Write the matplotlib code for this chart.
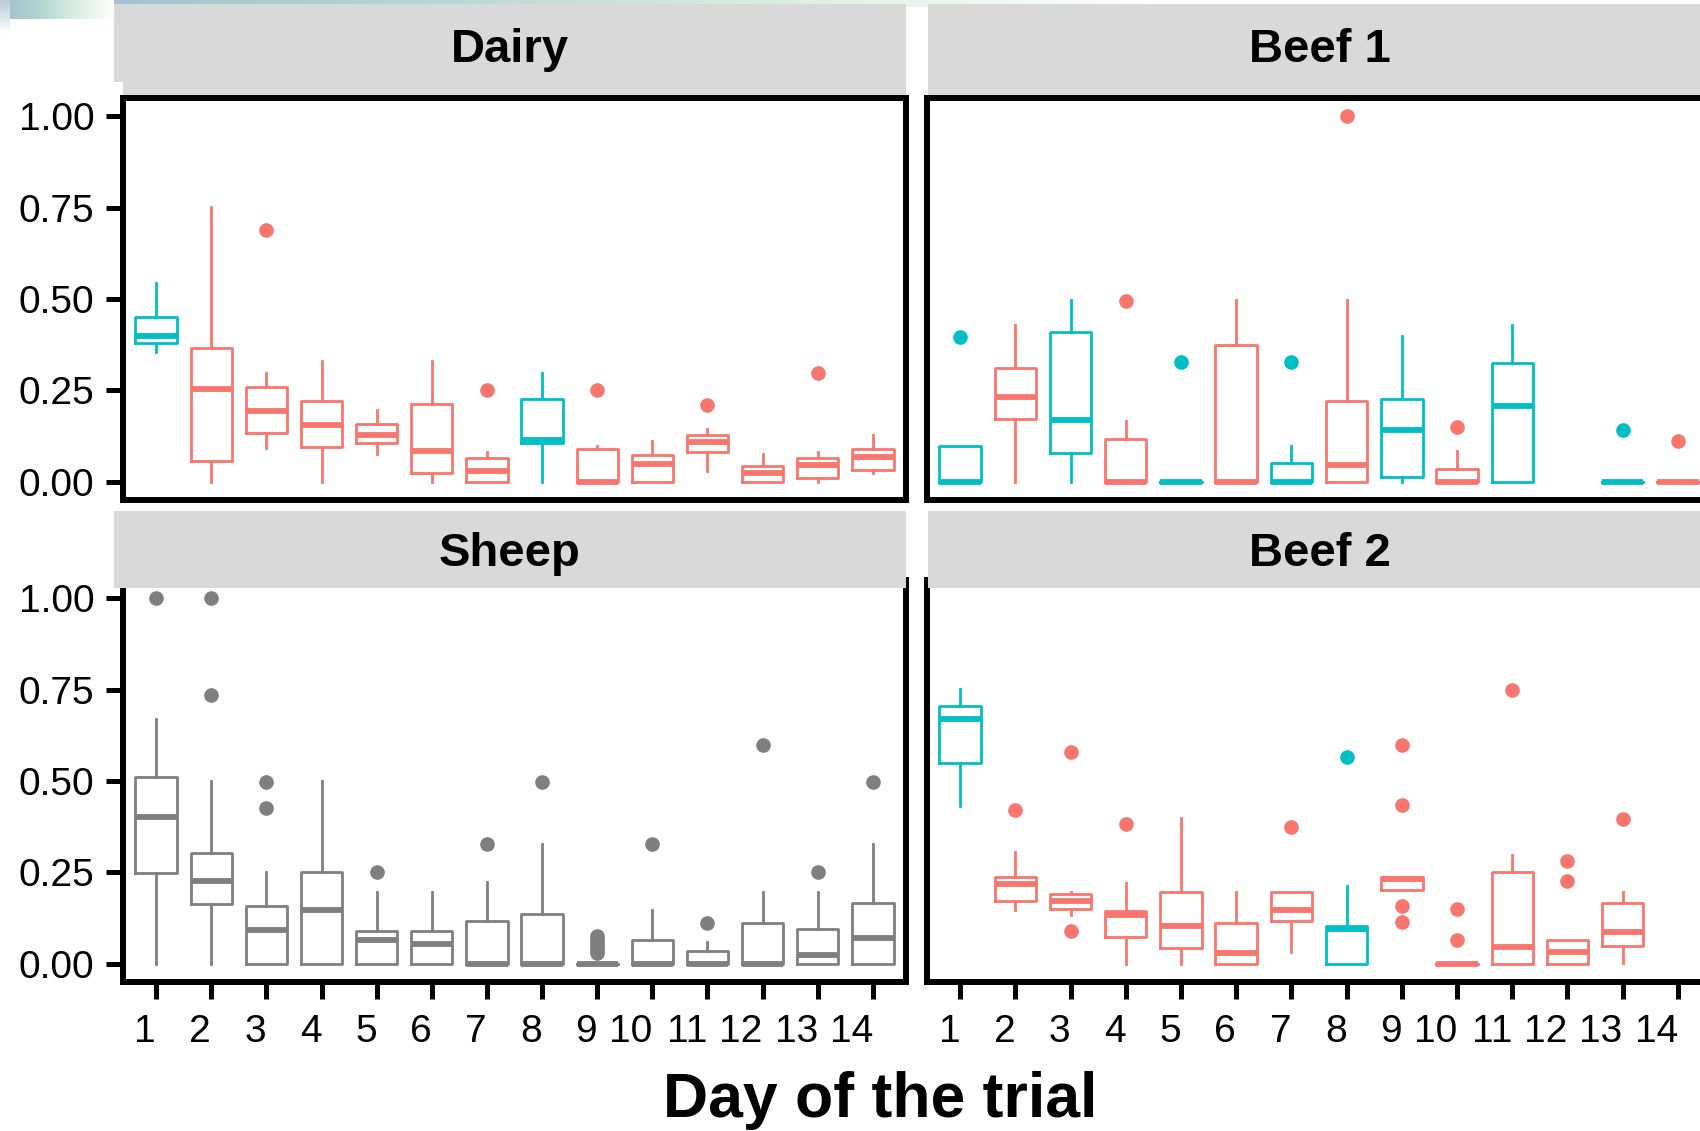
import matplotlib
matplotlib.use('Agg')
import matplotlib.pyplot as plt
import numpy as np
from matplotlib.colors import LinearSegmentedColormap
from matplotlib.patches import Rectangle

plt.rcParams['font.family'] = ['Liberation Sans', 'DejaVu Sans']

# ---------------- data ----------------
days = list(range(1, 15))
day_labels = [str(d) for d in days]
y_ticks = [0.0, 0.25, 0.5, 0.75, 1.0]
y_tick_labels = ['0.00', '0.25', '0.50', '0.75', '1.00']
panel_titles = ['Dairy', 'Beef 1', 'Sheep', 'Beef 2']
x_title = 'Day of the trial'

# group: 'A' = salmon, 'B' = cyan, 'C' = grey
dairy_group = ['B', 'A', 'A', 'A', 'A', 'A', 'A', 'B', 'A', 'A', 'A', 'A', 'A', 'A']
dairy_med = [0.400, 0.255, 0.193, 0.155, 0.127, 0.085, 0.030, 0.114, 0.000, 0.048, 0.108, 0.025, 0.047, 0.068]
dairy_q1 = [0.379, 0.056, 0.134, 0.095, 0.105, 0.025, 0.000, 0.105, 0.000, 0.000, 0.080, 0.000, 0.011, 0.032]
dairy_q3 = [0.450, 0.365, 0.259, 0.221, 0.157, 0.212, 0.064, 0.227, 0.089, 0.073, 0.127, 0.043, 0.064, 0.089]
dairy_lo = [0.355, 0.000, 0.093, 0.000, 0.077, 0.000, 0.000, 0.000, 0.000, 0.000, 0.029, 0.000, 0.000, 0.023]
dairy_hi = [0.543, 0.753, 0.298, 0.329, 0.197, 0.329, 0.082, 0.298, 0.098, 0.112, 0.144, 0.075, 0.082, 0.129]
dairy_out = [[], [], [0.689], [], [], [], [0.25], [], [0.25], [], [0.211], [], [0.297], []]

beef1_group = ['B', 'A', 'B', 'A', 'B', 'A', 'B', 'A', 'B', 'A', 'B', None, 'B', 'A']
beef1_med = [0.000, 0.232, 0.170, 0.000, 0.000, 0.000, 0.000, 0.047, 0.141, 0.000, 0.207, None, 0.000, 0.000]
beef1_q1 = [0.000, 0.173, 0.079, 0.000, 0.000, 0.000, 0.000, 0.000, 0.012, 0.000, 0.000, None, 0.000, 0.000]
beef1_q3 = [0.097, 0.312, 0.411, 0.118, 0.000, 0.373, 0.050, 0.220, 0.227, 0.034, 0.325, None, 0.000, 0.000]
beef1_lo = [0.000, 0.000, 0.000, 0.000, 0.000, 0.000, 0.000, 0.000, 0.000, 0.000, 0.000, None, 0.000, 0.000]
beef1_hi = [0.097, 0.430, 0.497, 0.166, 0.000, 0.497, 0.098, 0.497, 0.400, 0.084, 0.430, None, 0.000, 0.000]
beef1_out = [[0.395], [], [], [0.495], [0.327], [], [0.327], [1.0], [], [0.15], [], [], [0.141], [0.112]]

sheep_group = ['C'] * 14
sheep_med = [0.402, 0.225, 0.093, 0.146, 0.064, 0.055, 0.000, 0.000, 0.000, 0.000, 0.000, 0.000, 0.024, 0.071]
sheep_q1 = [0.249, 0.164, 0.000, 0.000, 0.000, 0.000, 0.000, 0.000, 0.000, 0.000, 0.000, 0.000, 0.000, 0.000]
sheep_q3 = [0.510, 0.304, 0.157, 0.250, 0.090, 0.090, 0.118, 0.135, 0.000, 0.066, 0.035, 0.112, 0.096, 0.167]
sheep_lo = [0.000] * 14
sheep_hi = [0.669, 0.499, 0.252, 0.499, 0.197, 0.197, 0.223, 0.327, 0.000, 0.146, 0.060, 0.197, 0.197, 0.327]
sheep_out = [[1.0], [1.0, 0.735], [0.496, 0.425], [], [0.25], [], [0.327], [0.496],
             [0.077, 0.067, 0.059, 0.050, 0.042, 0.034, 0.028], [0.327], [0.112], [0.598], [0.25], [0.496]]

beef2_group = ['B', 'A', 'A', 'A', 'A', 'A', 'A', 'B', 'A', 'A', 'A', 'A', 'A', None]
beef2_med = [0.671, 0.217, 0.173, 0.132, 0.102, 0.030, 0.146, 0.096, 0.232, 0.000, 0.047, 0.031, 0.086, None]
beef2_q1 = [0.550, 0.173, 0.150, 0.073, 0.042, 0.000, 0.118, 0.000, 0.203, 0.000, 0.000, 0.000, 0.049, None]
beef2_q3 = [0.705, 0.236, 0.190, 0.143, 0.195, 0.112, 0.195, 0.104, 0.236, 0.000, 0.250, 0.066, 0.167, None]
beef2_lo = [0.431, 0.148, 0.132, 0.000, 0.000, 0.000, 0.031, 0.000, 0.203, 0.000, 0.000, 0.000, 0.002, None]
beef2_hi = [0.753, 0.306, 0.197, 0.221, 0.400, 0.197, 0.195, 0.214, 0.236, 0.000, 0.298, 0.066, 0.197, None]
beef2_out = [[], [0.42], [0.58, 0.09], [0.382], [], [], [0.373], [0.567],
             [0.598, 0.435, 0.159, 0.113], [0.15, 0.066], [0.749], [0.282, 0.227], [0.397], []]

# ---------------- style ----------------
COLORS = {'A': '#F8766D', 'B': '#00BFC4', 'C': '#7F7F7F'}
W, H = 1700, 1131
SPINE_LW = 4.3
BOX_LW = 2.0
MED_LW = 4.2

fig = plt.figure(figsize=(W / 100, H / 100), dpi=100)
fig.patch.set_facecolor('white')


def px_axes(x0, y0, x1, y1, zorder=0):
    ax = fig.add_axes([x0 / W, 1 - y1 / H, (x1 - x0) / W, (y1 - y0) / H])
    ax.set_zorder(zorder)
    return ax


# decorative gradient remnant at top-left
grad_ax = px_axes(0, 0, 1150, 7, zorder=-5)
cm = LinearSegmentedColormap.from_list('g', [(0.0, (0.62, 0.74, 0.81)), (0.35, (0.70, 0.84, 0.82)),
                                             (0.7, (0.87, 0.94, 0.89)), (1.0, (1, 1, 1))])
grad_ax.imshow(np.linspace(0, 1, 256)[None, :], aspect='auto', cmap=cm, extent=[0, 1, 0, 1])
grad_ax.axis('off')
corner_ax = px_axes(0, 0, 114, 19, zorder=-4)
corner_ax.imshow(np.linspace(0.05, 0.35, 64)[None, :], aspect='auto', cmap=cm, extent=[0, 1, 0, 1])
corner_ax.axis('off')
side_ax = px_axes(0, 0, 10, 34, zorder=-3)
cm2 = LinearSegmentedColormap.from_list('g2', [(0.72, 0.80, 0.85), (1, 1, 1)])
side_ax.imshow(np.linspace(0, 1, 64)[:, None], aspect='auto', cmap=cm2, extent=[0, 1, 0, 1])
side_ax.axis('off')


def draw_panel(ax, group, med, q1, q3, lo, hi, out):
    for d, g, m, a, b, l, h, f in zip(days, group, med, q1, q3, lo, hi, out):
        if m is None:
            continue
        c = COLORS[g]
        ax.bxp([dict(med=m, q1=a, q3=b, whislo=l, whishi=h, fliers=f)],
               positions=[d], widths=0.75, showcaps=False, manage_ticks=False,
               boxprops=dict(color=c, linewidth=BOX_LW),
               whiskerprops=dict(color=c, linewidth=BOX_LW),
               medianprops=dict(color=c, linewidth=MED_LW, solid_capstyle='butt'),
               flierprops=dict(marker='o', markerfacecolor=c, markeredgecolor=c,
                               markersize=9.5, linestyle='none'))
    ax.set_xlim(0.4, 14.6)
    ax.set_ylim(-0.05, 1.05)
    for s in ax.spines.values():
        s.set_linewidth(SPINE_LW)
        s.set_color('black')
    ax.set_facecolor('white')


def style_axes(ax, left, bottom):
    ax.set_yticks(y_ticks)
    ax.set_xticks(days)
    if left:
        ax.set_yticklabels(y_tick_labels)
        ax.tick_params(axis='y', direction='out', length=12.2, width=3.6, pad=8.3,
                       labelsize=28, colors='black')
    else:
        ax.tick_params(axis='y', length=0, labelleft=False)
    if bottom:
        ax.set_xticklabels(day_labels, ha='right')
        ax.tick_params(axis='x', direction='out', length=12.2, width=3.6, pad=11,
                       labelsize=28, colors='black')
    else:
        ax.tick_params(axis='x', length=0, labelbottom=False)


LX0, LX1 = 123, 906
RX0, RX1 = 927, 1711
TOP_Y0, TOP_Y1 = 98, 500
BOT_Y0, BOT_Y1 = 580, 982

panels = [
    (LX0, TOP_Y0, LX1, TOP_Y1, True, False, (dairy_group, dairy_med, dairy_q1, dairy_q3, dairy_lo, dairy_hi, dairy_out)),
    (RX0, TOP_Y0, RX1, TOP_Y1, False, False, (beef1_group, beef1_med, beef1_q1, beef1_q3, beef1_lo, beef1_hi, beef1_out)),
    (LX0, BOT_Y0, LX1, BOT_Y1, True, True, (sheep_group, sheep_med, sheep_q1, sheep_q3, sheep_lo, sheep_hi, sheep_out)),
    (RX0, BOT_Y0, RX1, BOT_Y1, False, True, (beef2_group, beef2_med, beef2_q1, beef2_q3, beef2_lo, beef2_hi, beef2_out)),
]

for (x0, y0, x1, y1, left, bottom, data) in panels:
    ax = px_axes(x0, y0, x1, y1, zorder=1)
    draw_panel(ax, *data)
    style_axes(ax, left, bottom)

# strips
strips = [
    (114, 4, 906, 97, panel_titles[0], 62),
    (928, 4, 1711, 97, panel_titles[1], 62),
    (114, 511, 906, 587.5, panel_titles[2], 566),
    (928, 511, 1711, 587.5, panel_titles[3], 566),
]
for (x0, y0, x1, y1, title, base) in strips:
    sax = px_axes(x0, y0, x1, y1, zorder=2 if y0 > 300 else 0)
    sax.set_facecolor('#D9D9D9')
    for s in sax.spines.values():
        s.set_visible(False)
    sax.set_xticks([])
    sax.set_yticks([])
    sax.set_xlim(0, 1)
    sax.set_ylim(0, 1)
    sax.text(0.5, (y1 - base) / (y1 - y0), title, ha='center', va='baseline',
             fontsize=34, fontweight='bold', color='black', transform=sax.transAxes)

# small white notch at the lower-left of the Dairy strip
fig.patches.append(Rectangle((114 / W, 1 - 97 / H), 9 / W, 15 / H, transform=fig.transFigure,
                             facecolor='white', edgecolor='none', zorder=0.5))

fig.text(880 / W, 1 - 1116.7 / H, x_title, ha='center', va='baseline',
         fontsize=45, fontweight='bold', color='black')

fig.savefig('out.png', dpi=100)
